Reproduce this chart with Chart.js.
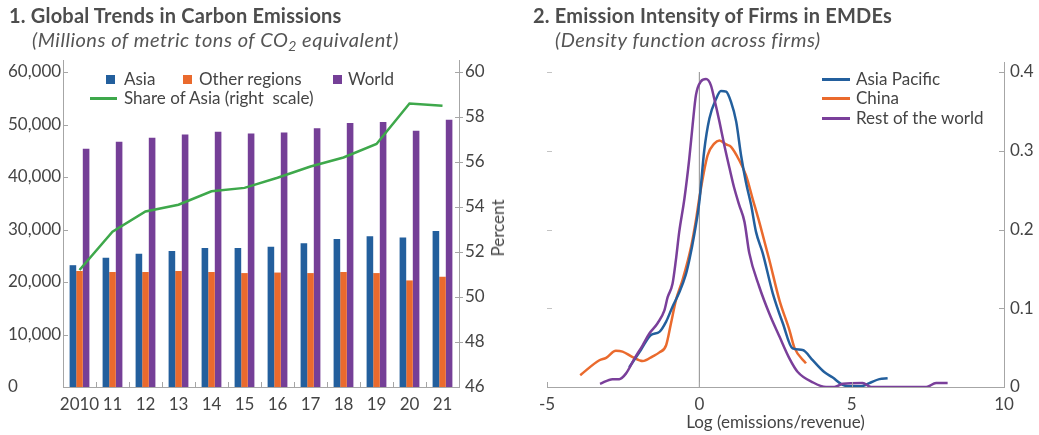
<!DOCTYPE html>
<html><head><meta charset="utf-8">
<script src="https://cdn.jsdelivr.net/npm/chart.js@4/dist/chart.umd.min.js"></script>
<style>
html,body{margin:0;padding:0;background:#fff;}
body{width:1039px;height:435px;position:relative;overflow:hidden;font-family:Lato,sans-serif;color:#444;}
.abs{position:absolute;white-space:nowrap;}
.title{font-weight:700;font-size:20px;line-height:20px;letter-spacing:0.2px;color:#4d4d4d;}
.sub{font-style:italic;font-size:20px;line-height:20px;letter-spacing:0.5px;color:#555;}
.leg{font-size:17px;line-height:18px;color:#444;}
.sw{position:absolute;}
canvas{position:absolute;top:0;}
</style></head><body>
<canvas id="c1" width="520" height="435" style="left:0"></canvas>
<canvas id="c2" width="519" height="435" style="left:520px"></canvas>

<div class="abs title" style="left:9px;top:5px">1. Global Trends in Carbon Emissions</div>
<div class="abs sub" style="left:32px;top:29px">(Millions of metric tons of CO<span style="font-size:14px;position:relative;top:4px">2</span> equivalent)</div>
<div class="abs title" style="left:533px;top:5px">2. Emission Intensity of Firms in EMDEs</div>
<div class="abs sub" style="left:555px;top:29px">(Density function across firms)</div>

<!-- left legend -->
<div class="sw" style="left:106px;top:75px;width:9px;height:9px;background:#235f9d"></div>
<div class="abs leg" style="left:124px;top:70px">Asia</div>
<div class="sw" style="left:183px;top:75px;width:9px;height:9px;background:#ea6a2d"></div>
<div class="abs leg" style="left:199px;top:70px">Other regions</div>
<div class="sw" style="left:333px;top:75px;width:9px;height:9px;background:#753f97"></div>
<div class="abs leg" style="left:348px;top:70px">World</div>
<div class="sw" style="left:90px;top:96.5px;width:27px;height:3px;background:#3ea84b"></div>
<div class="abs leg" style="left:124px;top:89px">Share of Asia (right&nbsp; scale)</div>
<div class="abs leg" style="left:498px;top:228px;transform:translate(-50%,-50%) rotate(-90deg)">Percent</div>

<!-- right legend -->
<div class="sw" style="left:822px;top:77.5px;width:28px;height:3px;background:#235f9d"></div>
<div class="abs leg" style="left:856px;top:70px">Asia Pacific</div>
<div class="sw" style="left:822px;top:97px;width:28px;height:3px;background:#ea6a2d"></div>
<div class="abs leg" style="left:856px;top:89px">China</div>
<div class="sw" style="left:822px;top:116.5px;width:28px;height:3px;background:#7a3f9a"></div>
<div class="abs leg" style="left:856px;top:108.5px">Rest of the world</div>

<script>
// ---- Panel 1 data ----
const years = ['2010','11','12','13','14','15','16','17','18','19','20','21'];
const asia = [23200,24600,25400,25900,26500,26500,26700,27400,28200,28700,28500,29700];
const otherRegions = [22100,21900,21900,22100,21900,21700,21800,21700,21900,21700,20300,21000];
const world = [45400,46700,47500,48100,48600,48300,48500,49300,50300,50500,48800,50900];
const shareAsia = [51.2,52.9,53.8,54.1,54.7,54.85,55.3,55.8,56.2,56.8,58.6,58.5];
const leftTicks = [0,10000,20000,30000,40000,50000,60000];
const rightTicks = [46,48,50,52,54,56,58,60];

// ---- Panel 2 data ----
const asiaPacificX = [-2.30,-1.92,-1.59,-1.31,-1.09,-0.88,-0.66,-0.45,-0.33,-0.16,0,0.16,0.33,0.55,0.71,0.88,1.04,1.21,1.37,1.53,1.70,1.86,2.08,2.41,2.74,3.06,3.39,3.72,4.10,4.38,4.65,4.87,5.31,5.58,5.91,6.18];
const asiaPacificY = [0.025,0.047,0.066,0.070,0.083,0.102,0.120,0.142,0.161,0.195,0.235,0.300,0.341,0.366,0.376,0.375,0.362,0.337,0.294,0.260,0.231,0.197,0.170,0.119,0.081,0.049,0.047,0.034,0.019,0.012,0.004,0.001,0.001,0.005,0.010,0.011];
const chinaX = [-3.91,-3.28,-3.06,-2.74,-2.52,-2.19,-1.86,-1.53,-1.31,-1.09,-0.93,-0.77,-0.55,-0.27,-0.11,0,0.27,0.49,0.66,0.88,1.04,1.31,1.53,1.75,2.00,2.30,2.63,2.96,3.12,3.50];
const chinaY = [0.015,0.034,0.037,0.046,0.045,0.038,0.033,0.039,0.044,0.053,0.081,0.110,0.136,0.178,0.212,0.240,0.294,0.309,0.313,0.308,0.305,0.288,0.269,0.239,0.205,0.161,0.110,0.072,0.050,0.030];
const restX = [-3.26,-2.85,-2.63,-2.41,-2.13,-1.86,-1.64,-1.37,-1.15,-1.04,-0.88,-0.77,-0.66,-0.49,-0.33,-0.22,-0.11,0.05,0.22,0.38,0.49,0.66,0.82,0.99,1.15,1.31,1.48,1.64,1.97,2.30,2.63,2.96,3.23,3.72,4.16,4.43,4.71,5.36,5.64,7.45,7.77,8.15];
const restY = [0.004,0.010,0.010,0.017,0.036,0.053,0.068,0.081,0.097,0.114,0.131,0.161,0.197,0.239,0.290,0.333,0.371,0.388,0.391,0.383,0.366,0.337,0.307,0.278,0.252,0.231,0.210,0.170,0.127,0.093,0.064,0.036,0.019,0.006,0,0,0.004,0.005,0,0,0.005,0.005];
const densityTicks = [0,0.1,0.2,0.3,0.4];
const logTicks = [-5,0,5,10];

const pts = (xs, ys) => xs.map((x, i) => ({x, y: ys[i]}));

Chart.defaults.font.family = 'Lato, sans-serif';
Chart.defaults.font.size = 17;
Chart.defaults.color = '#444';
const axisColor = '#a6a6a6';

function hline(ctx, x1, x2, y) { ctx.beginPath(); ctx.moveTo(x1, y); ctx.lineTo(x2, y); ctx.stroke(); }
function vline(ctx, x, y1, y2) { ctx.beginPath(); ctx.moveTo(x, y1); ctx.lineTo(x, y2); ctx.stroke(); }

const ticks1 = {
  id: 'ticks1',
  afterDraw(chart) {
    const {ctx} = chart; const {x, y, y2} = chart.scales;
    ctx.save(); ctx.strokeStyle = axisColor; ctx.lineWidth = 1;
    y.ticks.forEach(t => { if (t.value === 0) return; const py = Math.round(y.getPixelForValue(t.value)) + 0.5; hline(ctx, x.left, x.left + 5, py); });
    y2.ticks.forEach(t => { if (t.value === 46) return; const py = Math.round(y2.getPixelForValue(t.value)) + 0.5; hline(ctx, x.right - 4, x.right + 4, py); });
    for (let i = 1; i < years.length; i++) {
      const px = Math.round((x.getPixelForValue(i - 1) + x.getPixelForValue(i)) / 2) + 0.5;
      vline(ctx, px, y.bottom, y.bottom - 5);
    }
    ctx.restore();
  }
};

new Chart(document.getElementById('c1'), {
  data: {
    labels: years,
    datasets: [
      {type: 'line', label: 'Share of Asia (right scale)', data: shareAsia, yAxisID: 'y2', borderColor: '#3ea84b', borderWidth: 2.5, pointRadius: 0, tension: 0, order: 0},
      {type: 'bar', label: 'Asia', data: asia, backgroundColor: '#235f9d', yAxisID: 'y', order: 1},
      {type: 'bar', label: 'Other regions', data: otherRegions, backgroundColor: '#ea6a2d', yAxisID: 'y', order: 1},
      {type: 'bar', label: 'World', data: world, backgroundColor: '#753f97', yAxisID: 'y', order: 1}
    ]
  },
  options: {
    responsive: false, animation: false,
    layout: {padding: {left: 8, top: 60, right: 0, bottom: 0}},
    datasets: {bar: {categoryPercentage: 0.6, barPercentage: 1.0}},
    plugins: {legend: {display: false}, tooltip: {enabled: false}},
    scales: {
      x: {
        grid: {display: false, drawTicks: false},
        border: {display: true, color: axisColor, width: 1},
        ticks: {padding: 7, maxRotation: 0, autoSkip: false},
        afterFit(s) { s.height = 48; }
      },
      y: {
        position: 'left', min: 0, max: 62286,
        grid: {display: false, drawTicks: false},
        border: {display: true, color: axisColor, width: 1},
        ticks: {stepSize: 10000, includeBounds: false, crossAlign: 'far', padding: 4},
        afterBuildTicks(s) { s.ticks = leftTicks.map(v => ({value: v})); },
        afterFit(s) { s.width = 55; }
      },
      y2: {
        position: 'right', min: 46, max: 60.533,
        grid: {display: false, drawTicks: false},
        border: {display: true, color: axisColor, width: 1},
        ticks: {stepSize: 2, includeBounds: false, padding: 6},
        afterBuildTicks(s) { s.ticks = rightTicks.map(v => ({value: v})); },
        afterFit(s) { s.width = 61; }
      }
    }
  },
  plugins: [ticks1]
});

const ticks2 = {
  id: 'ticks2',
  afterDraw(chart) {
    const {ctx} = chart; const {x, y} = chart.scales;
    ctx.save(); ctx.lineWidth = 1;
    ctx.strokeStyle = '#c4c4c4';
    y.ticks.forEach(t => { if (t.value === 0) return; const py = Math.round(y.getPixelForValue(t.value)) + 0.5; hline(ctx, x.left, x.left + 5, py); });
    ctx.strokeStyle = axisColor;
    y.ticks.forEach(t => { if (t.value === 0) return; const py = Math.round(y.getPixelForValue(t.value)) + 0.5; hline(ctx, x.right - 5, x.right, py); });
    x.ticks.forEach(t => { const px = Math.round(x.getPixelForValue(t.value)) + 0.5; vline(ctx, px, y.bottom, y.bottom - 5); });
    ctx.restore();
  }
};

new Chart(document.getElementById('c2'), {
  type: 'line',
  data: {
    datasets: [
      {label: 'Rest of the world', data: pts(restX, restY), borderColor: '#7a3f9a', borderWidth: 2.5, pointRadius: 0, cubicInterpolationMode: 'monotone'},
      {label: 'Asia Pacific', data: pts(asiaPacificX, asiaPacificY), borderColor: '#235f9d', borderWidth: 2.5, pointRadius: 0, cubicInterpolationMode: 'monotone'},
      {label: 'China', data: pts(chinaX, chinaY), borderColor: '#ea6a2d', borderWidth: 2.5, pointRadius: 0, cubicInterpolationMode: 'monotone'},
      {label: 'zero', data: [{x: 0, y: 0}, {x: 0, y: 0.4}], borderColor: '#8c8c8c', borderWidth: 1, pointRadius: 0, order: 5}
    ]
  },
  options: {
    responsive: false, animation: false,
    layout: {padding: {left: 27, top: 62, right: 0, bottom: 0}},
    plugins: {legend: {display: false}, tooltip: {enabled: false}},
    scales: {
      x: {
        type: 'linear', min: -5, max: 10,
        grid: {display: false, drawTicks: false},
        border: {display: true, color: axisColor, width: 1},
        ticks: {stepSize: 5, padding: 7, maxRotation: 0},
        afterBuildTicks(s) { s.ticks = logTicks.map(v => ({value: v})); },
        title: {display: true, text: 'Log (emissions/revenue)', font: {size: 17}, color: '#444', padding: {top: 2, bottom: 2}},
        afterFit(s) { s.height = 48; }
      },
      y: {
        position: 'right', min: 0, max: 0.4127,
        grid: {display: false, drawTicks: false},
        border: {display: true, color: axisColor, width: 1},
        ticks: {stepSize: 0.1, includeBounds: false, padding: 6},
        afterBuildTicks(s) { s.ticks = densityTicks.map(v => ({value: v})); },
        afterFit(s) { s.width = 35; }
      }
    }
  },
  plugins: [ticks2]
});
</script>
</body></html>
